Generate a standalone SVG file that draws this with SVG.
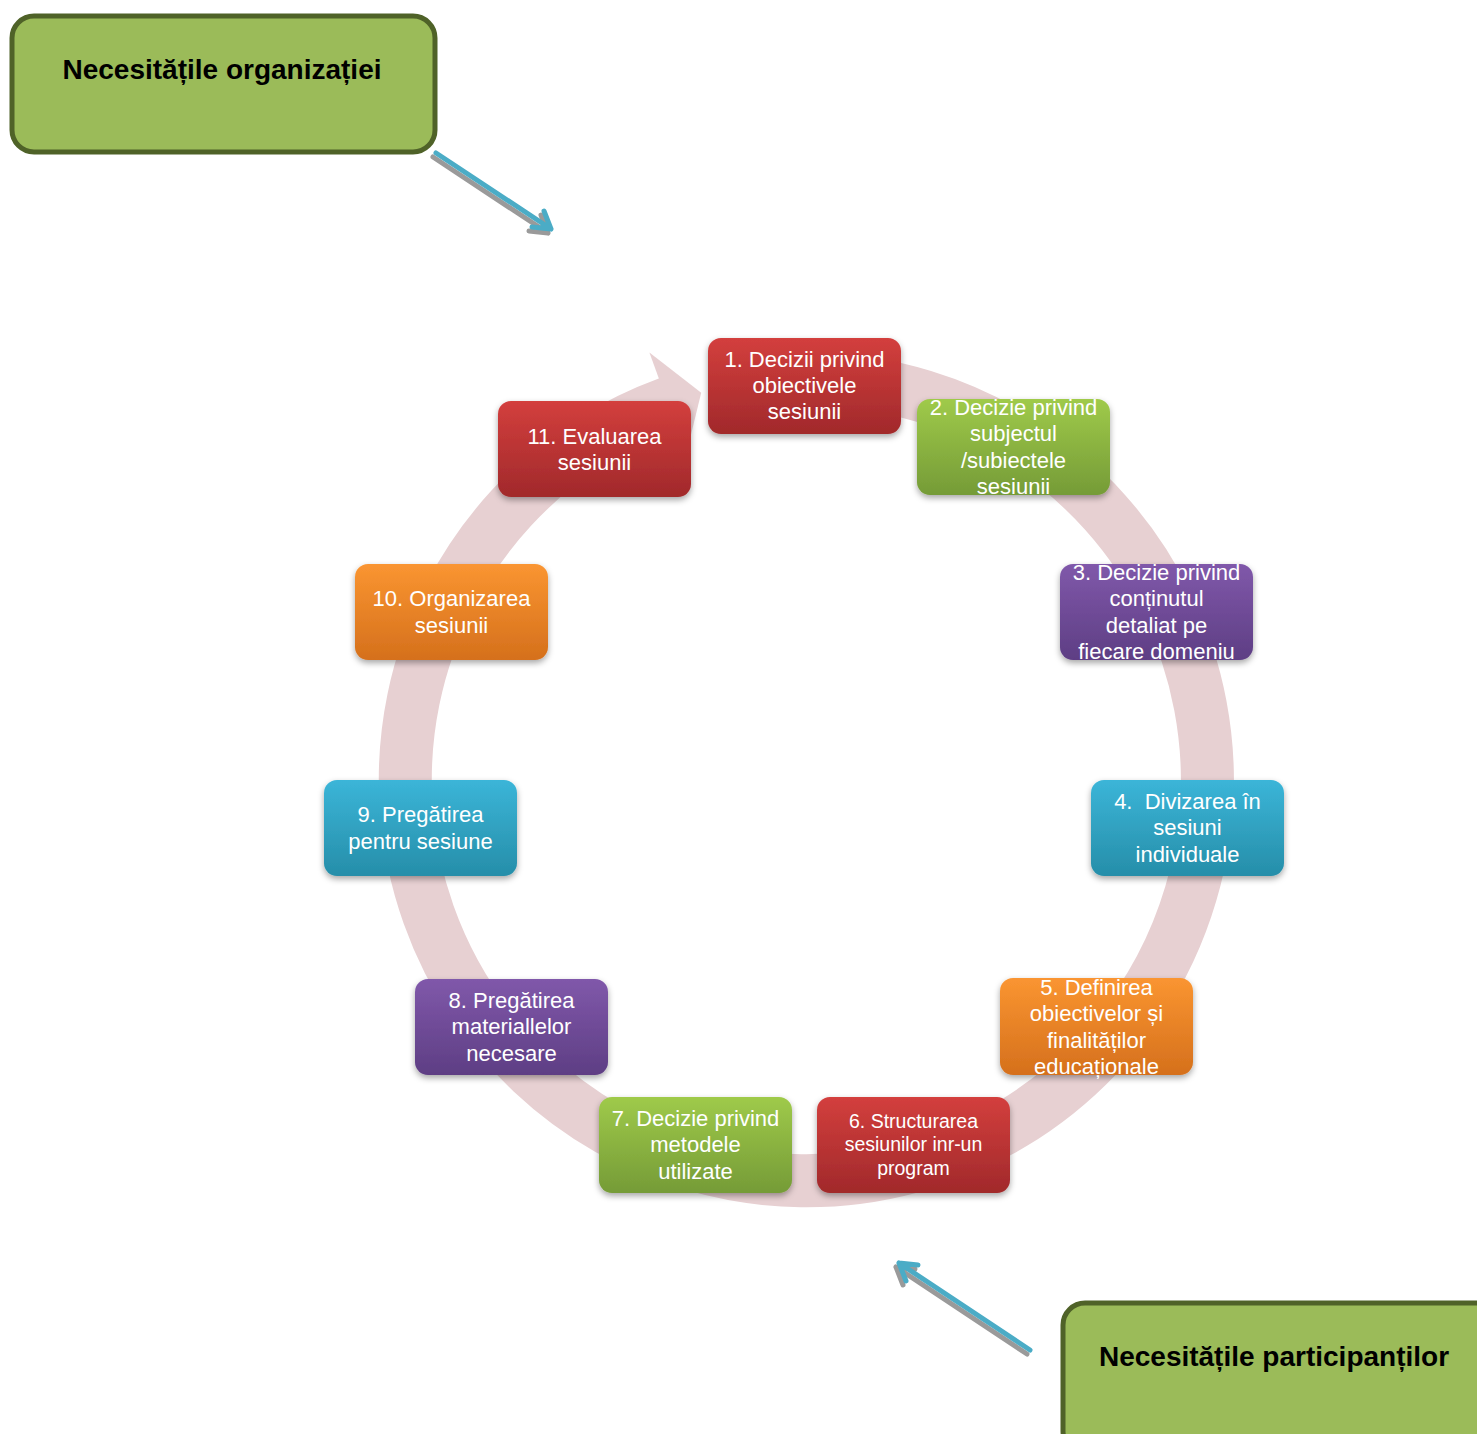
<svg xmlns="http://www.w3.org/2000/svg" width="1477" height="1434" viewBox="0 0 1477 1434">
<style>
.nt{font-family:"Liberation Sans",Arial,sans-serif;font-size:22px;fill:#ffffff;text-anchor:middle}
.sm{font-size:19.5px}
.bt{font-family:"Liberation Sans",Arial,sans-serif;font-weight:bold;font-size:28px;fill:#000000;text-anchor:middle}
.box{stroke:none;filter:url(#sh)}
.big{fill:#9bbb59;stroke:#4f6228;stroke-width:5}
.arr{fill:none;stroke:#4bacc6;stroke-width:5;stroke-linecap:round;stroke-linejoin:round}
.arrs{fill:none;stroke:#9a9a9a;stroke-width:5;stroke-linecap:round;stroke-linejoin:round}
</style>
<defs>
<filter id="sh" x="-10%" y="-10%" width="120%" height="130%">
<feDropShadow dx="0" dy="3" stdDeviation="3" flood-color="#000" flood-opacity="0.35"/>
</filter>
<linearGradient id="gr" x1="0" y1="0" x2="0" y2="1"><stop offset="0" stop-color="#d33f3d"/><stop offset="1" stop-color="#a1292b"/></linearGradient>
<linearGradient id="gg" x1="0" y1="0" x2="0" y2="1"><stop offset="0" stop-color="#9fca4a"/><stop offset="1" stop-color="#759b37"/></linearGradient>
<linearGradient id="gp" x1="0" y1="0" x2="0" y2="1"><stop offset="0" stop-color="#8058aa"/><stop offset="1" stop-color="#5e3e84"/></linearGradient>
<linearGradient id="gb" x1="0" y1="0" x2="0" y2="1"><stop offset="0" stop-color="#3bb5d8"/><stop offset="1" stop-color="#268ea9"/></linearGradient>
<linearGradient id="go" x1="0" y1="0" x2="0" y2="1"><stop offset="0" stop-color="#fa9531"/><stop offset="1" stop-color="#d5701c"/></linearGradient>
</defs>

<g id="connectors">
<g id="cycle-ring">
<path d="M735.4 385.1 A401 401 0 1 1 668.5 403.2" fill="none" stroke="#e7d0d2" stroke-width="53"/>
<polygon points="649.4,352.4 701.2,392.7 686.3,453.9" fill="#e7d0d2"/>
</g>
<g id="arrow-org">
<path class="arrs" d="M433 157 L548 233 M529 231 L548 233 L541 215"/>
<path class="arr" d="M436 153 L551 229 M532 227 L551 229 L544 211"/>
</g>
<g id="arrow-part">
<path class="arrs" d="M1027 1354 L896 1267 M915 1269 L896 1267 L903 1285"/>
<path class="arr" d="M1030 1350 L899 1263 M918 1265 L899 1263 L906 1281"/>
</g>
</g>

<g id="box-org">
<rect class="big" x="12" y="16" width="423" height="136" rx="22"/>
<text class="bt" x="222" y="79">Necesitățile organizației</text>
</g>
<g id="box-part">
<rect class="big" x="1063" y="1303" width="440" height="150" rx="22"/>
<text class="bt" x="1274" y="1366">Necesitățile participanților</text>
</g>

<g id="n1">
<rect class="box" x="708" y="338" width="193" height="96" rx="13" fill="url(#gr)"/>
<text class="nt" x="804.5" y="367">1. Decizii privind</text>
<text class="nt" x="804.5" y="393">obiectivele</text>
<text class="nt" x="804.5" y="419">sesiunii</text>
</g>
<g id="n2">
<rect class="box" x="917" y="399" width="193" height="96" rx="13" fill="url(#gg)"/>
<text class="nt" x="1013.5" y="415">2. Decizie privind</text>
<text class="nt" x="1013.5" y="441">subjectul</text>
<text class="nt" x="1013.5" y="468">/subiectele</text>
<text class="nt" x="1013.5" y="494">sesiunii</text>
</g>
<g id="n3">
<rect class="box" x="1060" y="564" width="193" height="96" rx="13" fill="url(#gp)"/>
<text class="nt" x="1156.5" y="580">3. Decizie privind</text>
<text class="nt" x="1156.5" y="606">conținutul</text>
<text class="nt" x="1156.5" y="633">detaliat pe</text>
<text class="nt" x="1156.5" y="659">fiecare domeniu</text>
</g>
<g id="n4">
<rect class="box" x="1091" y="780" width="193" height="96" rx="13" fill="url(#gb)"/>
<text class="nt" x="1187.5" y="809" xml:space="preserve">4.  Divizarea în</text>
<text class="nt" x="1187.5" y="835">sesiuni</text>
<text class="nt" x="1187.5" y="862">individuale</text>
</g>
<g id="n5">
<rect class="box" x="1000" y="978" width="193" height="97" rx="13" fill="url(#go)"/>
<text class="nt" x="1096.5" y="995">5. Definirea</text>
<text class="nt" x="1096.5" y="1021">obiectivelor și</text>
<text class="nt" x="1096.5" y="1048">finalităților</text>
<text class="nt" x="1096.5" y="1074">educaționale</text>
</g>
<g id="n6">
<rect class="box" x="817" y="1097" width="193" height="96" rx="13" fill="url(#gr)"/>
<text class="nt sm" x="913.5" y="1128">6. Structurarea</text>
<text class="nt sm" x="913.5" y="1151">sesiunilor inr-un</text>
<text class="nt sm" x="913.5" y="1175">program</text>
</g>
<g id="n7">
<rect class="box" x="599" y="1097" width="193" height="96" rx="13" fill="url(#gg)"/>
<text class="nt" x="695.5" y="1126">7. Decizie privind</text>
<text class="nt" x="695.5" y="1152">metodele</text>
<text class="nt" x="695.5" y="1179">utilizate</text>
</g>
<g id="n8">
<rect class="box" x="415" y="979" width="193" height="96" rx="13" fill="url(#gp)"/>
<text class="nt" x="511.5" y="1008">8. Pregătirea</text>
<text class="nt" x="511.5" y="1034">materiallelor</text>
<text class="nt" x="511.5" y="1061">necesare</text>
</g>
<g id="n9">
<rect class="box" x="324" y="780" width="193" height="96" rx="13" fill="url(#gb)"/>
<text class="nt" x="420.5" y="822">9. Pregătirea</text>
<text class="nt" x="420.5" y="849">pentru sesiune</text>
</g>
<g id="n10">
<rect class="box" x="355" y="564" width="193" height="96" rx="13" fill="url(#go)"/>
<text class="nt" x="451.5" y="606">10. Organizarea</text>
<text class="nt" x="451.5" y="633">sesiunii</text>
</g>
<g id="n11">
<rect class="box" x="498" y="401" width="193" height="96" rx="13" fill="url(#gr)"/>
<text class="nt" x="594.5" y="444">11. Evaluarea</text>
<text class="nt" x="594.5" y="470">sesiunii</text>
</g>
</svg>
